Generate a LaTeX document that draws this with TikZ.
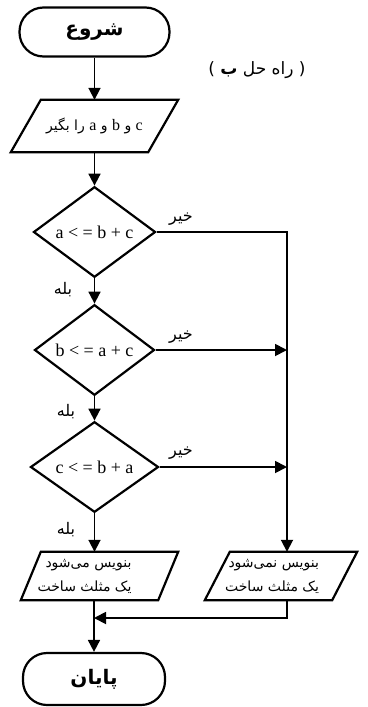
\documentclass[tikz,border=0pt]{standalone}
\usepackage{fontspec}
\setmainfont{Liberation Serif}
\newfontfamily\persfont[Script=Arabic]{DejaVu Sans}
\newfontfamily\latinsans{DejaVu Sans}
\TeXXeTstate=1
\usetikzlibrary{shapes.geometric,arrows.meta,calc}
\newcommand\paraoutline[2]{\draw[shp] ($(#1.north west)+(#2,0)$) -- (#1.north east) -- ($(#1.south east)+(-#2,0)$) -- (#1.south west) -- cycle;}
\begin{document}
\begin{tikzpicture}[x=1pt,y=-1pt,
  shp/.style={draw, line width=2.2pt, line join=miter},
  term/.style={shp, rectangle, rounded corners=24pt, inner sep=0pt},
  dia/.style={shp, diamond, inner sep=0pt, font=\fontsize{18}{20}\selectfont},
  para/.style={rectangle, inner sep=0pt, align=right},
  conn/.style={line width=1.8pt, -{Triangle[length=12pt,width=12pt]}},
  lbl/.style={font=\persfont\fontsize{16}{18}\selectfont, inner sep=0pt},
  boxtxt/.style={font=\persfont\fontsize{14}{24}\selectfont}]
\useasboundingbox (0,0) rectangle (367,707);

\node[term, minimum width=150pt, minimum height=49pt] (start) at (94.5,32)
  {\persfont\bfseries\fontsize{20}{22}\selectfont\beginR شروع\endR};
\node[lbl, font=\persfont\fontsize{17}{19}\selectfont] (title) at (257,70)
  {{\latinsans(} \beginR راه حل {\bfseries ب}\endR{} {\latinsans)}};

\node[para, minimum width=167pt, minimum height=52pt, font=\persfont\fontsize{14}{16}\selectfont] (in) at (94.5,126)
  {\beginR{\rmfamily\fontsize{16}{18}\selectfont c} و {\rmfamily\fontsize{16}{18}\selectfont b} و {\rmfamily\fontsize{16}{18}\selectfont a} را بگیر\endR};
\paraoutline{in}{30}

\node[dia, minimum width=122pt, minimum height=74pt] (d1) at (94.5,232) {a < = b + c};
\node[dia, minimum width=120pt, minimum height=76pt] (d2) at (94.5,350) {b < = a + c};
\node[dia, minimum width=128pt, minimum height=77pt] (d3) at (94.5,467) {c < = b + a};

\node[para, boxtxt, minimum width=157pt, minimum height=48pt] (out1) at (99.5,576)
  {\beginR بنویس می‌شود\endR\hspace*{30pt}\\\beginR یک مثلث ساخت\endR\hspace*{30pt}};
\paraoutline{out1}{20}
\node[para, boxtxt, minimum width=152pt, minimum height=48pt] (out2) at (281,576)
  {\beginR بنویس نمی‌شود\endR\hspace*{18pt}\\\beginR یک مثلث ساخت\endR\hspace*{18pt}};
\paraoutline{out2}{25}

\node[term, minimum width=142pt, minimum height=52pt] (stop) at (94,679)
  {\persfont\bfseries\fontsize{20}{22}\selectfont\beginR پایان\endR};

\coordinate (c1) at (287,232);
\coordinate (j2) at (287,350);
\coordinate (j3) at (287,467);
\coordinate (c4) at (287,618);
\coordinate (j4) at (94,618);

\node[lbl] (no1) at (181,219) {\beginR خیر\endR};
\node[lbl] (no2) at (181,337) {\beginR خیر\endR};
\node[lbl] (no3) at (181,453) {\beginR خیر\endR};
\node[lbl] (yes1) at (63,290) {\beginR بله\endR};
\node[lbl] (yes2) at (66,412) {\beginR بله\endR};
\node[lbl] (yes3) at (66,530) {\beginR بله\endR};

\draw[conn] (start.south) -- (in.north);
\draw[conn] (in.south) -- (d1.north);
\draw[conn] (d1.south) -- (d2.north);
\draw[conn] (d2.south) -- (d3.north);
\draw[conn] (d3.south) -- (d3.south |- out1.north);
\draw[conn] (stop.north |- out1.south) -- (stop.north);
\draw[conn] (d1.east) -- (c1) -- (c1 |- out2.north);
\draw[conn] (d2.east) -- (j2);
\draw[conn] (d3.east) -- (j3);
\draw[conn] (c1 |- out2.south) -- (c4) -- (j4);
\end{tikzpicture}
\end{document}
